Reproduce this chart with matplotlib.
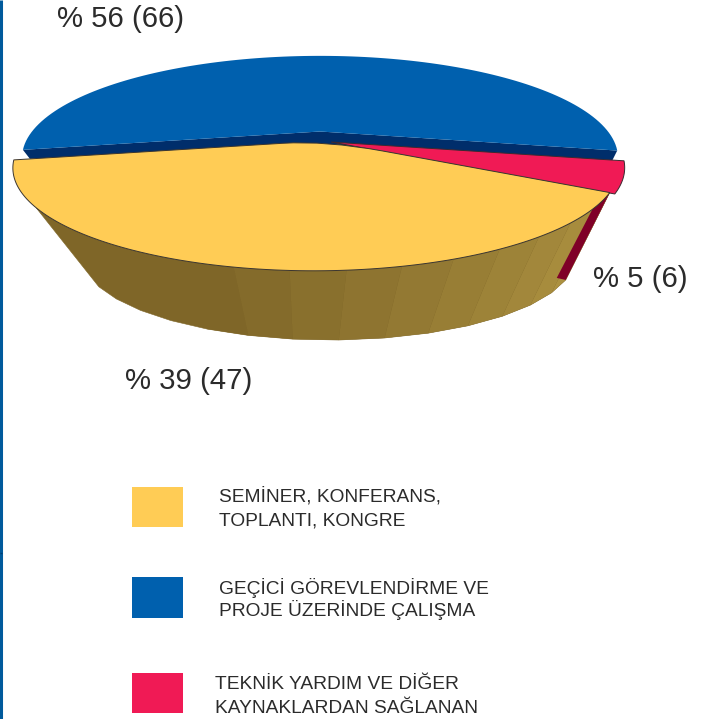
import matplotlib
matplotlib.use("Agg")
import matplotlib.pyplot as plt
from matplotlib.patches import Polygon, PathPatch, Rectangle
from matplotlib.path import Path
from matplotlib.colors import to_rgb
import numpy as np

# veriler
kategoriler = ["SEMİNER, KONFERANS,\nTOPLANTI, KONGRE",
               "GEÇİCİ GÖREVLENDİRME VE\nPROJE ÜZERİNDE ÇALIŞMA",
               "TEKNİK YARDIM VE DİĞER\nKAYNAKLARDAN SAĞLANAN"]
yuzdeler = [39, 56, 5]
adetler = [47, 66, 6]

SARI = "#FFCC55"
MAVI = "#0060AE"
KIRMIZI = "#F01A55"
LACIVERT = "#002E6B"
BORDO = "#7F0028"

K = 0.256


def nokta(aci, merkez, R, m, Q=96.8):
    # daire uzerindeki noktanin perspektif izdusumu (aci saat yonunde)
    t = np.radians(aci)
    u, v = np.cos(t), np.sin(t)
    s = 1.0 / (1 - K * v - m * u)
    return np.column_stack([merkez[0] + R * u * s, merkez[1] + Q * v * s])


def karisim(a, b, t):
    return tuple(np.array(to_rgb(a)) * (1 - t) + np.array(to_rgb(b)) * t)


# dilim acilari yuzdelerden geliyor
bas = 29.0
sari_son = bas + yuzdeler[0] * 3.6
kirmizi_bas = bas - yuzdeler[2] * 3.6
mavi_son = sari_son + yuzdeler[1] * 3.6

sari_m = (326, 140.6)
mavi_m = (320, 131.5)
kirmizi_m = (331, 142)
alt_m = (322, 236)


def sari_ust(aci):
    return nokta(aci, sari_m, 293, -0.031)


def sari_alt(aci):
    return nokta(aci, alt_m, 238, 0.025, Q=77.4)


fig = plt.figure(figsize=(7.06, 7.19), dpi=100)
ax = fig.add_axes([0, 0, 1, 1])
ax.set_xlim(0, 706)
ax.set_ylim(719, 0)
ax.axis("off")

# sol kenar cizgisi
ax.plot([1, 1], [0, 719], color="#005A9C", lw=2.2, solid_capstyle="butt")
ax.plot([0, 2.2], [553, 553], color="#003E73", lw=1, solid_capstyle="butt")

# mavi dilim
mavi_yay = nokta(np.linspace(sari_son, mavi_son, 120), mavi_m, 288, 0, Q=95)
a1 = mavi_yay[0] + np.array([7, 9])
a2 = mavi_yay[-1] + np.array([-5, 10])
ax.add_patch(Polygon([mavi_yay[0], mavi_m, mavi_yay[-1], a2, (320, 155), a1],
                     closed=True, fc=LACIVERT, ec="none", zorder=2))
ax.add_patch(Polygon(np.vstack([mavi_yay, [mavi_m]]), closed=True, fc=MAVI, ec="none", zorder=3))

# sari dilimin yan yuzu: once tek parca taban, sonra acik renkli parcalar
n_yuz = 14
yuz_acilari = np.linspace(bas, 145, n_yuz + 1)
taban = np.vstack([sari_ust(np.linspace(bas, 145, 60)), sari_alt(yuz_acilari)[::-1]])
ax.add_patch(Polygon(taban, closed=True, fc="#7F6628", ec="#7F6628", lw=0.4, zorder=4))
for i in range(n_yuz):
    d = np.array([yuz_acilari[i], yuz_acilari[i + 1]])
    t = (yuz_acilari[i] - bas) / 75.0
    if t >= 1:
        continue
    renk = karisim("#AC9140", "#7F6628", t)
    ust = sari_ust(np.linspace(d[0], d[1], 8))
    ax.add_patch(Polygon(np.vstack([ust, sari_alt(d)[::-1]]), closed=True, fc=renk, ec="none", zorder=4))

# bordo kenar
b_ust = sari_ust(np.array([bas, 38.0]))
b_alt = sari_alt(np.array([bas]))[0]
ax.add_patch(Polygon([b_ust[0], b_ust[1], b_alt + np.array([-9, -2]), b_alt],
                     closed=True, fc=BORDO, ec="none", zorder=5))

# kirmizi dilim
kirmizi_yay = nokta(np.linspace(kirmizi_bas, bas, 30), kirmizi_m, 293, -0.031)
ax.add_patch(Polygon(np.vstack([kirmizi_yay, [kirmizi_m]]), closed=True, fc=KIRMIZI,
                     ec="#3a2a30", lw=0.7, zorder=6))

# sari dilimin ustu, merkezde yuvarlatilmis
sari_yay = sari_ust(np.linspace(bas, sari_son, 120))
merkez = np.array(sari_m)
p_sol = merkez + (sari_yay[-1] - merkez) * 0.14
p_sag = merkez + (sari_yay[0] - merkez) * 0.2
koseler = list(sari_yay) + [p_sol, merkez, p_sag, sari_yay[0]]
kodlar = [Path.MOVETO] + [Path.LINETO] * (len(sari_yay) - 1) + [Path.LINETO, Path.CURVE3, Path.CURVE3, Path.LINETO]
ax.add_patch(PathPatch(Path(koseler, kodlar), fc=SARI, ec="#3a3530", lw=0.7, zorder=7))

# yuzde etiketleri
yazi = dict(family="Liberation Sans", color="#2b2b2b")
yuzde_konum = {0: (125, 381), 1: (57, 19), 2: (593, 279)}
for i in range(3):
    ax.text(yuzde_konum[i][0], yuzde_konum[i][1], "%% %d (%d)" % (yuzdeler[i], adetler[i]),
            fontsize=21.2, va="center", ha="left", zorder=9, **yazi)

# lejant, satirlar ayri ayri
renkler = [SARI, MAVI, KIRMIZI]
kutu_y = [487, 577, 673]
kutu_h = [40, 41, 40]
yazi_x = [219, 219, 215]
satir_y = [(501.7, 525), (594.3, 616), (689.3, 713.3)]
for i in range(3):
    ax.add_patch(Rectangle((132, kutu_y[i]), 51, kutu_h[i], fc=renkler[i], ec="none"))
    for j, satir in enumerate(kategoriler[i].split("\n")):
        ax.text(yazi_x[i], satir_y[i][j], satir, fontsize=13.8, va="baseline", ha="left", **yazi)

fig.savefig("out.png", dpi=100)
